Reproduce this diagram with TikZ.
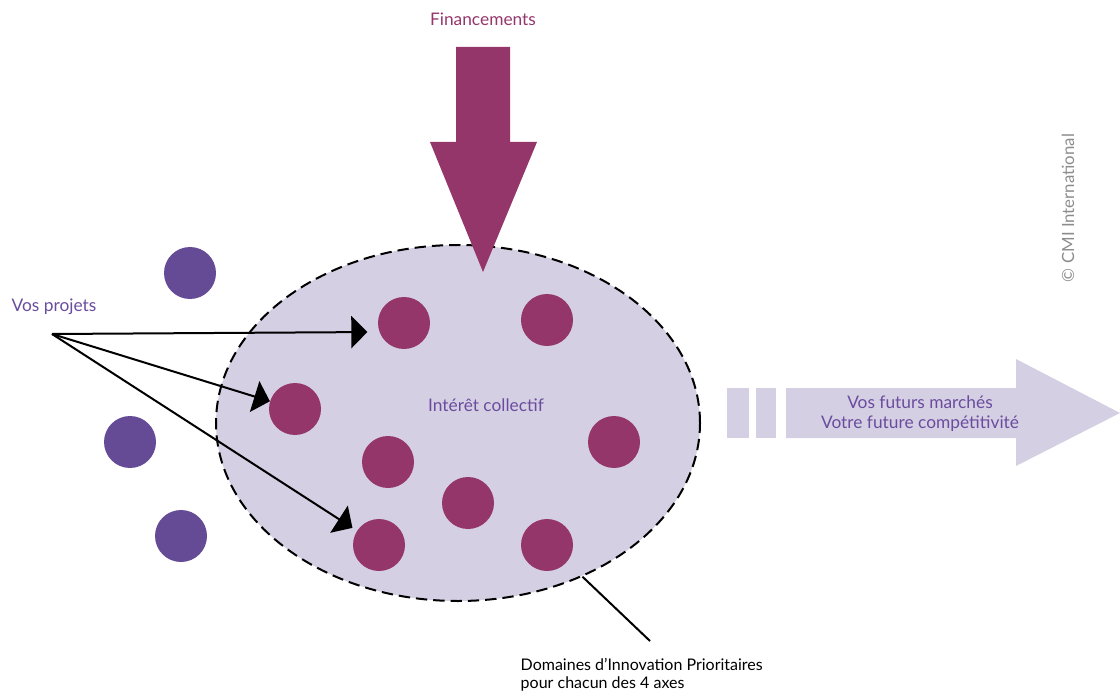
\documentclass[tikz,border=0pt]{standalone}
\usepackage{fontspec}
\setmainfont{Lato}
\usetikzlibrary{shapes.geometric, arrows.meta}
\definecolor{plum}{RGB}{149,54,107}
\definecolor{projviolet}{RGB}{101,74,150}
\definecolor{lavender}{RGB}{213,207,227}
\definecolor{textviolet}{RGB}{106,76,158}
\definecolor{copygray}{gray}{0.55}

\begin{document}
\begin{tikzpicture}[x=0.75pt,y=-0.75pt,
    dom/.style={circle,fill=plum,minimum size=39pt,inner sep=0pt},
    proj/.style={circle,fill=projviolet,minimum size=39pt,inner sep=0pt},
    pointer/.style={line width=1.5pt,-{Triangle[length=12pt,width=24pt]}},
    lbl/.style={font=\fontsize{13}{15}\selectfont}]
    \useasboundingbox (0,0) rectangle (1120,691);

    \node [ellipse,draw,fill=lavender,line width=1.5pt,dash pattern=on 8.5pt off 4.5pt,
           minimum width=363pt,minimum height=267pt,inner sep=0pt] (dip) at (458,423) {};

    \fill [plum] (456,47) -- (510,47) -- (510,142) -- (537,142) -- (483,272)
        -- (430,142) -- (456,142) -- cycle;
    \fill [lavender] (727,388) rectangle (749,438);
    \fill [lavender] (756,388) rectangle (776,438);
    \fill [lavender] (786,388) -- (1016,388) -- (1016,359) -- (1120,413)
        -- (1016,466) -- (1016,438) -- (786,438) -- cycle;

    \node [dom] (d1) at (404,323) {};
    \node [dom] (d2) at (547,320) {};
    \node [dom] (d3) at (295,409) {};
    \node [dom] (d4) at (388,462) {};
    \node [dom] (d5) at (614,442) {};
    \node [dom] (d6) at (468,503) {};
    \node [dom] (d7) at (379,545) {};
    \node [dom] (d8) at (547,545) {};

    \node [proj] (p1) at (190,273) {};
    \node [proj] (p2) at (130,442) {};
    \node [proj] (p3) at (181,536) {};

    \node [lbl,text=plum] (fin) at (483,19) {Financements};
    \node [lbl,text=textviolet,anchor=west] (projets) at (7,307) {Vos projets};
    \node [lbl,text=textviolet] (interet) at (486,405) {Intérêt collectif};
    \node [lbl,text=textviolet,align=center] (marches) at (920,414)
        {Vos futurs marchés\\Votre future compétitivité};
    \node [font=\fontsize{12}{13}\selectfont,anchor=north west,align=left] (legende) at (516,654)
        {Domaines d’Innovation Prioritaires\\pour chacun des 4 axes};
    \node [font=\fontsize{12.6}{14}\selectfont,text=copygray,rotate=90] (copy) at (1068,208)
        {\textcopyright{} CMI International};

    \coordinate (src) at (52,334);
    \coordinate (pied) at (650,641);
    \draw [pointer,shorten >=9pt] (src) -- (d1.200);
    \draw [pointer] (src) -- (d3);
    \draw [pointer,shorten >=4pt] (src) -- (d7);
    \draw [line width=1.5pt] (dip.-51) -- (pied);
\end{tikzpicture}
\end{document}
